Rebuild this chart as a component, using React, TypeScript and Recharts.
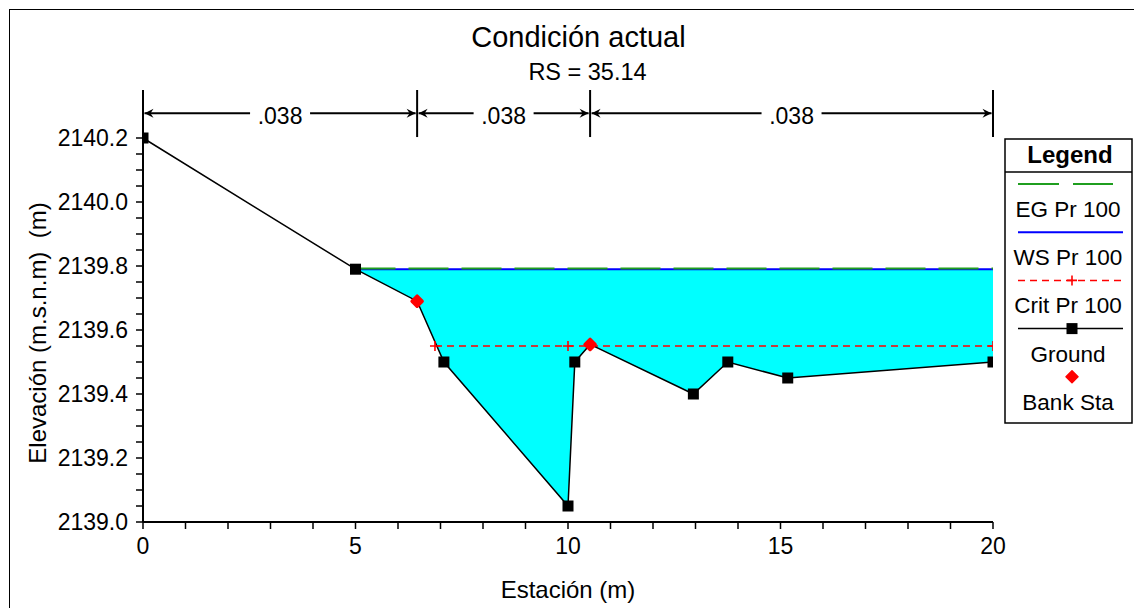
import React from 'react';
import {
  ComposedChart, Line, Area, XAxis, YAxis, ReferenceLine, Legend,
} from 'recharts';

// ---------- data ----------
const stations = [0, 5, 6.45, 7.08, 10.0, 10.16, 10.52, 12.95, 13.76, 15.17, 20];
const groundElev = [2140.2, 2139.79, 2139.69, 2139.5, 2139.05, 2139.5, 2139.555, 2139.4, 2139.5, 2139.45, 2139.5];

const wsElev = 2139.79;
const egElev = 2139.792;
const wsStations = [5, 20];

const critElev = 2139.55;
const critStations = [6.87, 10.0, 20];

const bankStations = [6.45, 10.52];
const bankElev = [2139.69, 2139.555];

const nStations = [0, 6.45, 10.52, 20];
const nValues = ['.038', '.038', '.038'];
const nLineElev = 2140.277;
const nBarLow = 2140.203;
const nBarHigh = 2140.35;

const xTicks = [0, 1, 2, 3, 4, 5, 6, 7, 8, 9, 10, 11, 12, 13, 14, 15, 16, 17, 18, 19, 20];
const yTicks = [
  2139.0, 2139.05, 2139.1, 2139.15, 2139.2, 2139.25, 2139.3, 2139.35, 2139.4,
  2139.45, 2139.5, 2139.55, 2139.6, 2139.65, 2139.7, 2139.75, 2139.8, 2139.85,
  2139.9, 2139.95, 2140.0, 2140.05, 2140.1, 2140.15, 2140.2,
];

const titleText = 'Condición actual';
const subtitleText = 'RS = 35.14';
const xLabel = 'Estación (m)';
const yLabel = 'Elevación (m.s.n.m)\u00A0\u00A0(m)';

const legendItems = [
  { name: 'EG Pr 100', kind: 'eg' },
  { name: 'WS Pr 100', kind: 'ws' },
  { name: 'Crit Pr 100', kind: 'crit' },
  { name: 'Ground', kind: 'ground' },
  { name: 'Bank Sta', kind: 'bank' },
];

// ---------- derived tables ----------
const groundData = stations.map((x, i) => ({ x, elev: groundElev[i] }));
const waterData = stations
  .map((x, i) => ({ x, water: [groundElev[i], wsElev] }))
  .filter((d) => d.x >= wsStations[0] && d.x <= wsStations[1]);
const wsData = wsStations.map((x) => ({ x, elev: wsElev }));
const egData = wsStations.map((x) => ({ x, elev: egElev }));
const critData = critStations.map((x) => ({ x, elev: critElev }));
const bankData = bankStations.map((x, i) => ({ x, elev: bankElev[i] }));

// ---------- styles ----------
const FONT = '"Liberation Sans", Arial, Helvetica, sans-serif';
const GREEN = '#1f9e1f';
const BLUE = '#0000ff';
const RED = '#ff0000';
const CYAN = '#00ffff';

const isMajorY = (v: number) => Math.abs(v * 5 - Math.round(v * 5)) < 1e-6;

const Square = (props: any) => {
  const { cx, cy, index, payload } = props;
  if (cx == null || cy == null) return <g key={index} />;
  if (payload && bankStations.includes(payload.x)) return <g key={index} />;
  return <rect key={index} x={cx - 5.5} y={cy - 5.5} width={11} height={11} fill="#000" />;
};

const Plus = (props: any) => {
  const { cx, cy, index } = props;
  if (cx == null || cy == null) return <g key={index} />;
  return (
    <path key={index} d={`M${cx - 5},${cy}H${cx + 5}M${cx},${cy - 5}V${cy + 5}`} stroke={RED} strokeWidth={1.6} />
  );
};

const BankDot = (props: any) => {
  const { cx, cy, index } = props;
  if (cx == null || cy == null) return <g key={index} />;
  return (
    <polygon
      key={index}
      points={`${cx},${cy - 5} ${cx + 5},${cy} ${cx},${cy + 5} ${cx - 5},${cy}`}
      fill={RED}
      stroke={RED}
      strokeWidth={3.5}
      strokeLinejoin="round"
    />
  );
};

const Diamond = ({ cx, cy }: { cx: number; cy: number }) => (
  <polygon
    points={`${cx},${cy - 6} ${cx + 6},${cy} ${cx},${cy + 6} ${cx - 6},${cy}`}
    fill={RED}
    stroke={RED}
    strokeWidth={1.5}
    strokeLinejoin="round"
  />
);

const arrowHead = (tipX: number, y: number, dir: number) => {
  const b = tipX - dir * 9;
  const n = tipX - dir * 6;
  return `M${tipX},${y}L${b},${y - 4.5}L${n},${y}L${b},${y + 4.5}Z`;
};

const makeNShape = (label: string) => (props: any) => {
  const { x1, y1, x2 } = props;
  const left = Math.min(x1, x2) + 1.5;
  const right = Math.max(x1, x2) - 1.5;
  const mid = (left + right) / 2;
  const gap = 30;
  return (
    <g>
      <line x1={left} y1={y1} x2={mid - gap} y2={y1} stroke="#000" strokeWidth={2} />
      <line x1={mid + gap} y1={y1} x2={right} y2={y1} stroke="#000" strokeWidth={2} />
      <path d={arrowHead(left, y1, -1)} fill="#000" />
      <path d={arrowHead(right, y1, 1)} fill="#000" />
      <text x={mid} y={y1 + 11} textAnchor="middle" fontFamily={FONT} fontSize={23} fill="#000">
        {label}
      </text>
    </g>
  );
};

const LegendBox = () => {
  const w = 127;
  const h = 284;
  const cx = 63;
  const mx = 67;
  return (
    <svg width={w} height={h} style={{ display: 'block', overflow: 'visible' }}>
      <rect x={0} y={0} width={w} height={h} fill="#fff" stroke="#000" strokeWidth={1.5} />
      <line x1={0} y1={33} x2={w} y2={33} stroke="#000" strokeWidth={1.5} />
      <text x={cx + 2} y={24} textAnchor="middle" fontFamily={FONT} fontSize={24} fontWeight="bold" fill="#000">
        Legend
      </text>
      {legendItems.map((it, i) => {
        const ly = 45 + 48.2 * i;
        const ty = ly + 33;
        let sample: React.ReactNode = null;
        if (it.kind === 'eg') {
          sample = <line x1={13} y1={ly} x2={108} y2={ly} stroke={GREEN} strokeWidth={2} strokeDasharray="41 14" />;
        } else if (it.kind === 'ws') {
          sample = <line x1={13} y1={ly} x2={118} y2={ly} stroke={BLUE} strokeWidth={2} />;
        } else if (it.kind === 'crit') {
          sample = (
            <g>
              <line x1={13} y1={ly} x2={118} y2={ly} stroke={RED} strokeWidth={1.5} strokeDasharray="7 5" />
              <path d={`M${mx - 5},${ly}H${mx + 5}M${mx},${ly - 5}V${ly + 5}`} stroke={RED} strokeWidth={1.6} />
            </g>
          );
        } else if (it.kind === 'ground') {
          sample = (
            <g>
              <line x1={13} y1={ly} x2={118} y2={ly} stroke="#000" strokeWidth={1.5} />
              <rect x={mx - 5.5} y={ly - 5.5} width={11} height={11} fill="#000" />
            </g>
          );
        } else {
          sample = <Diamond cx={mx} cy={ly} />;
        }
        return (
          <g key={it.name}>
            {sample}
            <text x={cx} y={ty} textAnchor="middle" fontFamily={FONT} fontSize={22.5} fill="#000">
              {it.name}
            </text>
          </g>
        );
      })}
    </svg>
  );
};

export default function App() {
  return (
    <div
      style={{
        position: 'absolute', left: 0, top: 0, width: 1134, height: 608,
        overflow: 'hidden', background: '#fff', fontFamily: FONT,
      }}
    >
      <div
        style={{
          position: 'absolute', left: 9, top: 9, width: 1200, height: 700,
          border: '1.5px solid #000', boxSizing: 'border-box',
        }}
      />
      <div
        style={{
          position: 'absolute', left: 278.5, top: 22.5, width: 600, textAlign: 'center',
          fontSize: 29, lineHeight: 1, color: '#000', fontFamily: FONT,
        }}
      >
        {titleText}
      </div>
      <div
        style={{
          position: 'absolute', left: 387.5, top: 61, width: 400, textAlign: 'center',
          fontSize: 23.5, lineHeight: 1, color: '#000', fontFamily: FONT,
        }}
      >
        {subtitleText}
      </div>
      <ComposedChart
        width={1134}
        height={608}
        margin={{ top: 90, right: 141, bottom: 0, left: 0 }}
        style={{ position: 'absolute', left: 0, top: 0 }}
      >
        <XAxis
          dataKey="x"
          type="number"
          domain={[0, 20]}
          ticks={xTicks}
          interval={0}
          allowDataOverflow
          height={86}
          tickSize={7}
          tickMargin={9}
          tickFormatter={(v: number) => (v % 5 === 0 ? String(v) : '')}
          tick={{ fill: '#000', fontSize: 23, fontFamily: FONT }}
          axisLine={{ stroke: '#000', strokeWidth: 2 }}
          tickLine={{ stroke: '#000', strokeWidth: 1.5 }}
          label={{
            value: xLabel, position: 'insideBottom', offset: 10,
            fill: '#000', fontSize: 24, fontFamily: FONT,
          }}
        />
        <YAxis
          type="number"
          domain={[2139.0, 2140.35]}
          ticks={yTicks}
          interval={0}
          allowDataOverflow
          width={143}
          tickSize={7}
          tickMargin={8}
          tickFormatter={(v: number) => (isMajorY(v) ? v.toFixed(1) : '')}
          tick={{ fill: '#000', fontSize: 23, fontFamily: FONT }}
          axisLine={{ stroke: '#000', strokeWidth: 2 }}
          tickLine={{ stroke: '#000', strokeWidth: 1.5 }}
          label={{
            value: yLabel,
            content: () => (
              <text
                x={46}
                y={333}
                transform="rotate(-90 46 333)"
                textAnchor="middle"
                fontFamily={FONT}
                fontSize={24}
                fill="#000"
              >
                {yLabel}
              </text>
            ),
          }}
        />
        <Legend
          layout="vertical"
          align="center"
          verticalAlign="middle"
          content={<LegendBox />}
          wrapperStyle={{ left: 1005, top: 139, width: 127, height: 284 }}
        />
        <Area
          data={waterData}
          dataKey="water"
          type="linear"
          fill={CYAN}
          fillOpacity={1}
          stroke="none"
          isAnimationActive={false}
          legendType="none"
        />
        <Line data={wsData} dataKey="elev" type="linear" stroke={BLUE} strokeWidth={2} dot={false} isAnimationActive={false} />
        <Line data={egData} dataKey="elev" type="linear" stroke={GREEN} strokeWidth={2} strokeDasharray="40 13" dot={false} isAnimationActive={false} />
        <Line data={critData} dataKey="elev" type="linear" stroke={RED} strokeWidth={1.5} strokeDasharray="7 5" dot={Plus} isAnimationActive={false} />
        <Line data={groundData} dataKey="elev" type="linear" stroke="#000" strokeWidth={1.5} dot={Square} isAnimationActive={false} />
        <Line data={bankData} dataKey="elev" type="linear" stroke="none" dot={BankDot} activeDot={false} isAnimationActive={false} />
        {nStations.map((x) => (
          <ReferenceLine
            key={`bar-${x}`}
            segment={[{ x, y: nBarLow }, { x, y: nBarHigh }]}
            stroke="#000"
            strokeWidth={2}
            ifOverflow="visible"
          />
        ))}
        {nValues.map((v, i) => (
          <ReferenceLine
            key={`n-${i}`}
            segment={[{ x: nStations[i], y: nLineElev }, { x: nStations[i + 1], y: nLineElev }]}
            ifOverflow="visible"
            shape={makeNShape(v)}
          />
        ))}
      </ComposedChart>
    </div>
  );
}
